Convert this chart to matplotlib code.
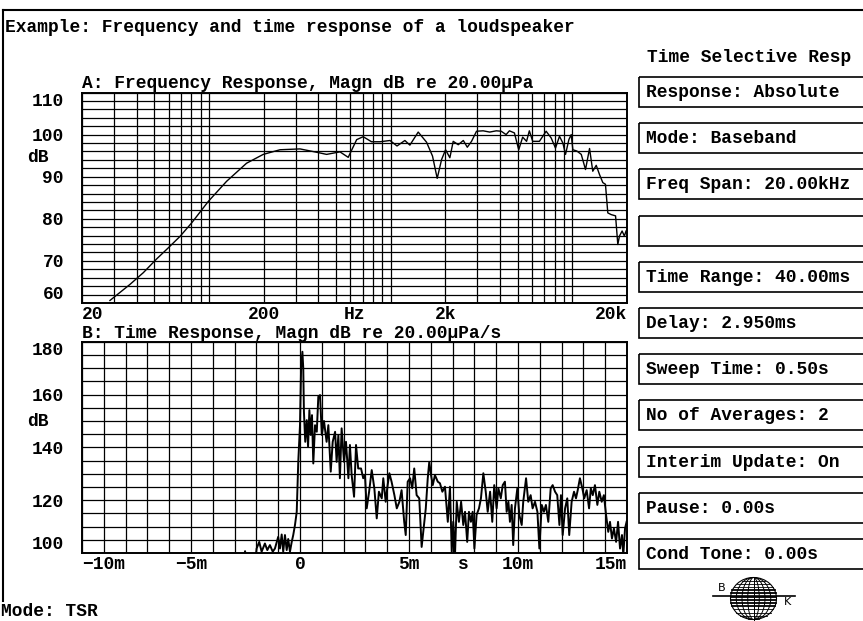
import numpy as np
import matplotlib
matplotlib.use("Agg")
from matplotlib import pyplot as plt
from matplotlib.ticker import FixedLocator, LogLocator, MultipleLocator, NullFormatter
from matplotlib.patches import Rectangle, Ellipse

plt.rcParams['font.family'] = ['Liberation Mono', 'DejaVu Sans Mono']
plt.rcParams['font.weight'] = 'bold'
plt.rcParams['axes.labelweight'] = 'bold'
plt.rcParams['font.size'] = 12.9

# --- data ---
freq_hz = [28.5, 36.7, 43.5, 51.6, 59.7, 69.2, 80.2, 99, 125, 161, 199, 246, 317,
           392, 444, 526, 584, 650, 706, 785, 874, 992, 1084, 1198, 1276, 1418,
           1576, 1700, 1804, 1908, 2006, 2118, 2210, 2356, 2512, 2642, 2788, 2970,
           3230, 3510, 3816, 4060, 4320, 4506, 4800, 5070, 5330, 5600, 5800, 6054,
           6590, 7176, 7650, 8080, 8500, 8870, 9176, 9572, 9864, 10070, 10590,
           11200, 11820, 12440, 12960, 13540, 14120, 14720, 15220, 15680, 16360,
           17300, 17800, 18180, 18800, 19340, 19760]
freq_db = [60.6, 64.4, 67.2, 70.5, 73.1, 75.8, 79.0, 84.1, 88.9, 93.2, 95.3, 96.4, 96.6,
           95.8, 95.3, 95.9, 94.6, 98.8, 99.5, 98.3, 98.3, 98.6, 97.3, 98.6, 97.5, 100.6,
           98.2, 94.9, 89.6, 94.1, 96.4, 94.5, 98.4, 97.6, 98.6, 97.0, 98.4, 100.8,
           100.9, 100.6, 100.9, 100.8, 100.0, 100.9, 100.4, 96.4, 99.4, 98.4, 100.9, 98.4,
           98.4, 100.8, 99.2, 96.8, 99.6, 98.0, 95.3, 98.8, 100.0, 96.4, 96.1,
           95.3, 91.7, 96.7, 91.3, 92.7, 90.5, 88.6, 88.2, 81.4, 81.0,
           80.7, 73.9, 75.9, 77.1, 75.9, 77.1]

time_ms = [-2.6, -2.52, -2.45, -2.05, -1.99, -1.87, -1.76, -1.61, -1.50, -1.38, -1.25,
           -1.15, -1.00, -0.92, -0.84, -0.77, -0.69, -0.61, -0.54, -0.46, -0.38, -0.31,
           -0.23, -0.15, -0.08, 0.00, 0.05, 0.11, 0.15, 0.18, 0.24, 0.31, 0.37, 0.43,
           0.49, 0.55, 0.61, 0.69, 0.77, 0.84, 0.92, 1.00, 1.10, 1.22, 1.30, 1.41, 1.50,
           1.61, 1.68, 1.76, 1.83, 1.91, 2.02, 2.11, 2.22, 2.29, 2.37, 2.48, 2.57, 2.67,
           2.80, 2.90, 2.98, 3.06, 3.17, 3.29, 3.41, 3.52, 3.62, 3.75, 3.82, 3.93, 4.02,
           4.10, 4.20, 4.33, 4.44, 4.56, 4.66, 4.78, 4.85, 4.94, 5.05, 5.15, 5.24, 5.35,
           5.47, 5.58, 5.69, 5.77, 5.86, 5.93, 6.01, 6.09, 6.19, 6.32, 6.42, 6.53, 6.65,
           6.78, 6.88, 6.96, 7.03, 7.11, 7.19, 7.29, 7.39, 7.49, 7.57, 7.67, 7.75, 7.84,
           7.92, 8.00, 8.10, 8.21, 8.30, 8.41, 8.52, 8.61, 8.72, 8.82, 8.91, 9.02, 9.10,
           9.21, 9.30, 9.40, 9.48, 9.56, 9.63, 9.71, 9.78, 9.86, 9.97, 10.06, 10.17,
           10.24, 10.37, 10.47, 10.58, 10.67, 10.78, 10.89, 10.98, 11.09, 11.19, 11.28,
           11.39, 11.50, 11.59, 11.70, 11.80, 11.90, 11.97, 12.05, 12.16, 12.26, 12.35,
           12.46, 12.57, 12.66, 12.74, 12.84, 12.95, 13.04, 13.15, 13.26, 13.34, 13.43,
           13.53, 13.64, 13.73, 13.84, 13.94, 14.04, 14.14, 14.22, 14.31, 14.40, 14.50,
           14.59, 14.68, 14.77, 14.83, 14.91, 14.98]
time_db = [97.0, 100.7, 97.0, 97.0, 101.7, 104.2, 100.5, 103.6, 101.1, 103.0, 100.5,
           101.7, 106.1, 101.7, 107.0, 100.5, 106.8, 101.1, 105.3, 100.5, 104.2, 106.8,
           110.6, 115.6, 134.5, 148.4, 169.9, 176.2, 169.9, 153.5, 142.1, 150.3, 140.2, 154.1,
           144.7, 152.2, 133.9, 148.4, 145.9, 159.2, 159.8, 144.7, 150.0, 142.1, 148.4, 130.8, 142.1,
           145.9, 134.5, 144.7, 128.3, 147.2, 134.5, 142.1, 128.3, 140.9, 129.5, 121.3, 140.9, 132.0,
           132.0, 128.3, 129.5, 116.9, 123.2, 131.4, 124.5, 113.1, 123.2, 120.7, 128.3, 119.4, 125.7,
           130.2, 127.0, 121.9, 116.9, 119.4, 123.8, 111.8, 106.8, 127.0, 128.3, 124.5, 132.0, 121.9,
           120.7, 102.3, 110.6, 116.9, 128.3, 134.5, 129.5, 125.7, 129.5, 127.0, 126.4, 123.2, 125.1,
           111.8, 125.1, 100.5, 111.8, 99.2, 119.4, 111.8, 119.4, 110.6, 115.6, 104.2, 115.6, 111.8,
           115.6, 101.7, 114.4, 116.9, 120.7, 130.2, 123.2, 115.6, 123.2, 111.8, 125.7, 116.9, 124.5,
           120.7, 125.7, 127.0, 115.6, 119.4, 111.8, 118.2, 103.0, 116.9, 124.5, 114.4, 110.6,
           119.4, 128.3, 119.4, 121.9, 116.9, 119.4, 115.6, 101.7, 118.2, 115.6, 118.2,
           111.8, 124.5, 125.7, 123.2, 121.9, 110.6, 121.9, 106.8, 116.9, 120.7, 106.8,
           119.4, 123.2, 120.7, 123.8, 128.3, 124.5, 120.7, 123.8, 116.9, 124.5, 121.9,
           125.7, 118.2, 123.2, 119.4, 121.9, 114.4, 108.0, 111.8, 105.5, 109.3, 104.2,
           111.8, 101.7, 106.8, 99.2, 109.3, 111.8]

freq_ticks = [20, 200, 632, 2000, 20000]
freq_labels = ['20', '200', 'Hz', '2k', '20k']
level_ticks_a = [60, 70, 80, 90, 100, 110]
time_ticks = [-10, -5, 0, 5, 7.5, 10, 15]
time_labels = ['\u221210m', '\u22125m', '0', '5m', 's', '10m', '15m']
level_ticks_b = [100, 120, 140, 160, 180]

settings = ['Response: Absolute', 'Mode: Baseband', 'Freq Span: 20.00kHz', '',
            'Time Range: 40.00ms', 'Delay: 2.950ms', 'Sweep Time: 0.50s',
            'No of Averages: 2', 'Interim Update: On', 'Pause: 0.00s',
            'Cond Tone: 0.00s']

W, H = 863, 621
fig = plt.figure(figsize=(W / 100, H / 100), dpi=100)
fig.patch.set_facecolor('white')


def px_axes(l, t, r, b):
    return fig.add_axes([l / W, 1 - b / H, (r - l) / W, (b - t) / H])


def style_panel(ax):
    for s in ax.spines.values():
        s.set_linewidth(1.4)
        s.set_color('black')
    ax.tick_params(which='both', length=0)
    ax.xaxis.remove_overlapping_locs = False
    ax.yaxis.remove_overlapping_locs = False
    ax.grid(which='minor', color='black', linewidth=0.9)
    ax.grid(which='major', visible=False)
    ax.set_axisbelow(True)


# panel A: frequency response
axA = px_axes(82, 92.5, 627, 303)
axA.semilogx(freq_hz, freq_db, color='black', linewidth=1.0)
axA.set_xlim(20, 20000)
axA.set_ylim(60, 110)
axA.xaxis.set_major_locator(FixedLocator(freq_ticks))
axA.set_xticklabels(freq_labels)
axA.xaxis.set_minor_locator(LogLocator(base=10, subs=np.arange(1, 10), numticks=50))
axA.xaxis.set_minor_formatter(NullFormatter())
axA.set_yticks(level_ticks_a)
axA.yaxis.set_minor_locator(MultipleLocator(2))
style_panel(axA)
axA.tick_params(axis='y', pad=13)
axA.tick_params(axis='x', pad=2)
axA.set_title('A: Frequency Response, Magn dB re 20.00\u03bcPa', loc='left', pad=1,
              fontsize=12.9, fontweight='bold')
axA.set_ylabel('dB', rotation=0, ha='left', va='center', fontweight='bold')
axA.yaxis.set_label_coords(-0.101, 0.69)

# panel B: time response
axB = px_axes(82, 341.7, 627, 553)
axB.plot(time_ms, time_db, color='black', linewidth=1.4)
axB.set_xlim(-10, 15)
axB.set_ylim(100, 180)
axB.set_xticks(time_ticks)
axB.set_xticklabels(time_labels)
axB.xaxis.set_minor_locator(MultipleLocator(1))
axB.set_yticks(level_ticks_b)
axB.yaxis.set_minor_locator(MultipleLocator(5))
style_panel(axB)
axB.tick_params(axis='y', pad=13)
axB.tick_params(axis='x', pad=2)
axB.set_title('B: Time Response, Magn dB re 20.00\u03bcPa/s', loc='left', pad=1,
              fontsize=12.9, fontweight='bold')
axB.set_ylabel('dB', rotation=0, ha='left', va='center', fontweight='bold')
axB.yaxis.set_label_coords(-0.101, 0.62)

for ax in (axA, axB):
    ylabels = ax.get_yticklabels()
    ylabels[0].set_verticalalignment('bottom')
    ylabels[-1].set_verticalalignment('top')
    xlabels = ax.get_xticklabels()
    xlabels[0].set_horizontalalignment('left')
    xlabels[-1].set_horizontalalignment('right')

# page decorations in pixel coordinates
ov = fig.add_axes([0, 0, 1, 1], zorder=-1)
ov.set_xlim(0, W)
ov.set_ylim(H, 0)
ov.axis('off')

ov.plot([3, W], [10, 10], color='black', linewidth=1.5)
ov.plot([3, 3], [10, 601], color='black', linewidth=1.5)
ov.text(5, 28, 'Example: Frequency and time response of a loudspeaker', va='center')
ov.text(1, 612, 'Mode: TSR', va='center')
ov.text(647, 57, 'Time Selective Resp', va='center')

for i, label in enumerate(settings):
    top = 77 + i * 46.2
    ov.add_patch(Rectangle((639, top), 240, 30, fill=False, edgecolor='black',
                           linewidth=1.2, clip_on=False))
    ov.text(646, top + 15.5, label, va='center')

# B&K globe logo
cx, cy, rx, ry = 753.5, 598.5, 23, 21
ov.add_patch(Ellipse((cx, cy), 2 * rx, 2 * ry, fill=False, edgecolor='black', linewidth=0.8))
for k in (0.25, 0.5, 0.75):
    ov.add_patch(Ellipse((cx, cy), 2 * rx * k, 2 * ry, fill=False, edgecolor='black',
                         linewidth=0.7))
ov.plot([cx, cx], [cy - ry, cy + ry], color='black', linewidth=0.7)
for dy in np.arange(-ry + 3, ry, 3.2):
    half = rx * np.sqrt(max(0.0, 1 - (dy / ry) ** 2))
    lw = 1.3 if abs(dy) < 9 else 0.6
    ov.plot([cx - half, cx + half], [cy + dy, cy + dy], color='black', linewidth=lw)
ov.plot([713, 795], [595.5, 595.5], color='black', linewidth=1.2)
ov.text(721.5, 593, 'B', fontsize=8, fontweight='normal', family='DejaVu Sans',
        ha='center', va='bottom')
ov.text(787, 597, 'K', fontsize=8, fontweight='normal', family='DejaVu Sans',
        ha='center', va='top')

fig.savefig('out.png', dpi=100)
